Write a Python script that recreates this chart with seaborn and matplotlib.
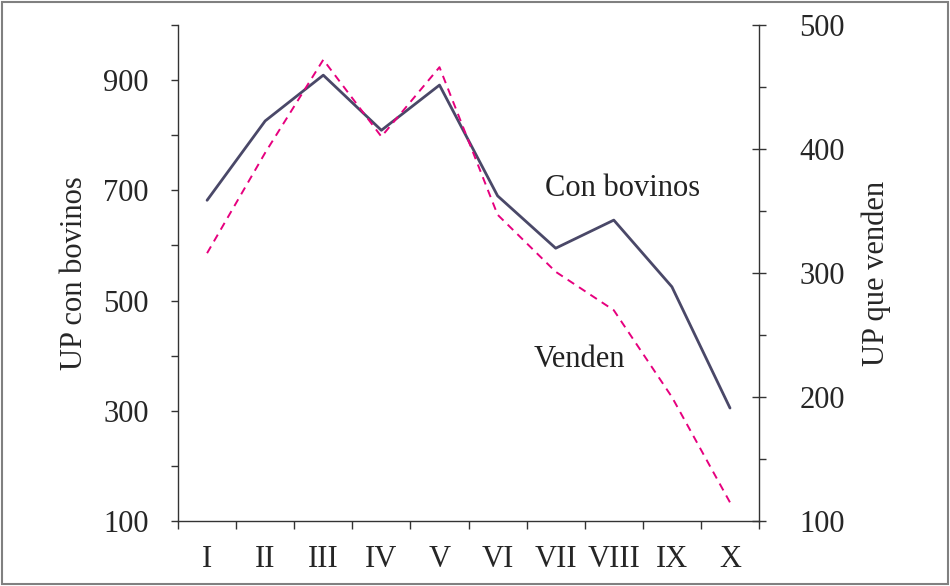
#!/usr/bin/env python3
# coding: utf-8

import numpy as np
import pandas as pd
import matplotlib
matplotlib.use("Agg")
import matplotlib.pyplot as plt
from matplotlib.patches import Rectangle
from matplotlib.ticker import FixedLocator, MultipleLocator
import seaborn as sns

# datos
categorias = ["I", "II", "III", "IV", "V", "VI", "VII", "VIII", "IX", "X"]
con_bovinos = [682, 826, 909, 809, 891, 690, 595, 646, 525, 305]   # eje izquierdo
venden = [316, 397, 472, 410, 466, 347, 301, 270, 200, 115]        # eje derecho

col_bov = "#4a4868"
col_ven = "#e6007e"
fs = 22

sns.set_style("ticks")
plt.rcParams["font.family"] = ["Liberation Serif", "DejaVu Serif"]
plt.rcParams["font.size"] = fs

df = pd.DataFrame({"estrato": categorias, "bovinos": con_bovinos, "venden": venden})

fig = plt.figure(figsize=(9.5, 5.86), dpi=100)
ax = fig.add_axes([0.1874, 0.1109, 0.6116, 0.8464])
ax2 = ax.twinx()

sns.lineplot(data=df, x="estrato", y="bovinos", ax=ax, color=col_bov, lw=2, sort=False)
sns.lineplot(data=df, x="estrato", y="venden", ax=ax2, color=col_ven, lw=1.4,
             sort=False, linestyle=(0, (4, 3)))

# eje izquierdo
ax.set_ylim(100, 1000)
ax.yaxis.set_major_locator(FixedLocator([100, 300, 500, 700, 900]))
ax.yaxis.set_minor_locator(FixedLocator([200, 400, 600, 800, 1000]))
ax.tick_params(axis="y", which="both", direction="out", length=5, width=1,
               color="#333333", labelsize=fs, pad=16)
ax.set_ylabel("UP con bovinos", fontsize=fs, labelpad=10)

# eje x: etiquetas en el centro, marcas en los bordes
ax.set_xlim(-0.5, len(categorias) - 0.5)
ax.set_xticks(range(len(categorias)))
ax.set_xticklabels(categorias)
ax.xaxis.set_minor_locator(MultipleLocator(1, offset=0.5))
ax.tick_params(axis="x", which="major", length=0, labelsize=fs, pad=17)
ax.tick_params(axis="x", which="minor", direction="out", length=6, width=1, color="#333333")
ax.set_xlabel("")

# eje derecho
ax2.set_ylim(100, 500)
ax2.yaxis.set_major_locator(MultipleLocator(100))
ax2.yaxis.set_minor_locator(MultipleLocator(50))
ax2.tick_params(axis="y", which="major", direction="inout", length=10, width=1,
                color="#333333", labelsize=fs, pad=24)
ax2.tick_params(axis="y", which="minor", direction="out", length=5, width=1, color="#333333")
ax2.set_ylabel("UP que venden", fontsize=fs, labelpad=12)

for a in (ax, ax2):
    a.spines["top"].set_visible(False)
    for s in ("left", "right", "bottom"):
        a.spines[s].set_color("#333333")
        a.spines[s].set_linewidth(1)
ax.spines["right"].set_visible(False)
ax2.spines["left"].set_visible(False)
ax2.spines["bottom"].set_visible(False)

# rótulos de las series
ax.text(0.765, 0.67, "Con bovinos", transform=ax.transAxes, ha="center", va="center",
        fontsize=fs, color="#222222")
ax.text(0.69, 0.325, "Venden", transform=ax.transAxes, ha="center", va="center",
        fontsize=fs, color="#222222")

# marco gris alrededor de la figura
fig.patches.append(Rectangle((0.002, 0.004), 0.996, 0.993, transform=fig.transFigure,
                             fill=False, edgecolor="#808080", lw=1.5))

fig.savefig("out.png", dpi=100)
